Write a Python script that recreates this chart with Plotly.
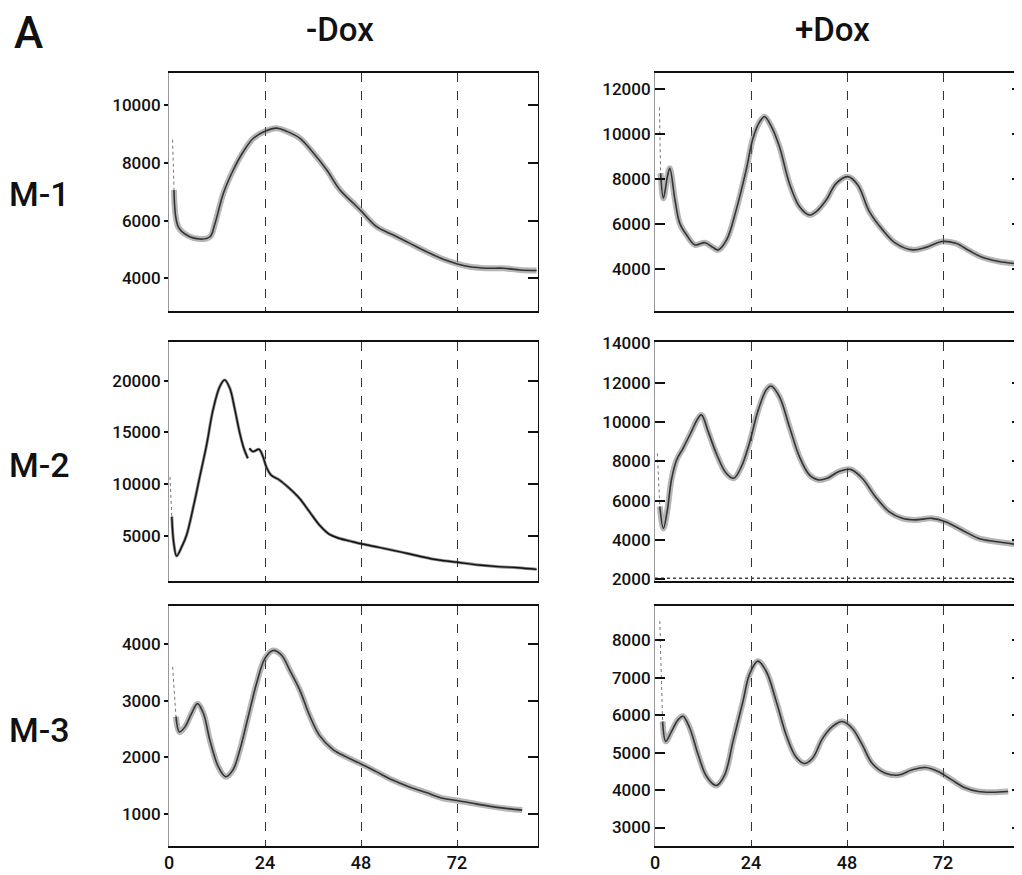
import plotly.graph_objects as go

# ---------------- data (hours, bioluminescence counts) ----------------
t_m1_minus = [0.9, 1.25, 2.3, 4.4, 7.75, 10.25, 11.5, 13.6, 16.1, 18.6, 21.1, 24.0, 26.9, 29.4,
              32.75, 36.1, 39.4, 42.75, 46.1, 48.2, 51.9, 56.1, 60.25, 64.4, 68.6, 72.1, 75.25,
              79.4, 83.6, 87.75, 91.9]
v_m1_minus = [8800, 7060, 5790, 5500, 5360, 5440, 5900, 6950, 7760, 8390, 8850, 9090, 9200, 9090,
              8850, 8340, 7760, 7060, 6600, 6310, 5790, 5500, 5210, 4920, 4660, 4500, 4400,
              4350, 4350, 4290, 4270]

t_m1_plus = [1.1, 1.4, 2.1, 3.1, 3.7, 5.0, 6.2, 7.9, 10.0, 12.5, 14.5, 15.8, 17.9, 20.3, 22.8,
             24.5, 26.2, 27.4, 29.1, 31.1, 33.6, 36.1, 38.6, 40.3, 42.8, 45.3, 48.2, 50.7, 53.6,
             56.9, 60.2, 64.4, 67.7, 71.8, 75.2, 78.5, 81.8, 86.0, 89.3, 91.4]
v_m1_plus = [11200, 8260, 7150, 8110, 8480, 7070, 6030, 5510, 5070, 5170, 4960, 4850, 5290, 6630,
             8410, 9820, 10560, 10780, 10340, 9450, 7810, 6780, 6400, 6550, 7070, 7810, 8110,
             7740, 6550, 5740, 5140, 4850, 4960, 5220, 5140, 4820, 4520, 4330, 4250, 4220]

t_m2_minus = [0.25, 0.7, 1.2, 1.9, 3.2, 4.4, 6.1, 7.7, 9.4, 11.0, 12.7, 13.9, 15.2, 16.4, 17.7,
              18.7, 19.7, None, 20.1, 21.0, 22.5, 23.5, 24.3, 25.5, 27.6, 30.1, 32.6, 35.1, 37.6,
              40.0, 42.5, 45.9, 48.3, 52.5, 57.5, 62.4, 67.4, 72.1, 77.4, 82.3, 87.3, 91.9]
v_m2_minus = [10700, 6870, 4290, 3070, 3970, 5100, 7830, 10730, 13790, 17170, 19430, 20070, 19270,
              17330, 14920, 13470, 12500, None, 13470, 13150, 13370, 12660, 11700, 10890, 10410,
              9600, 8640, 7350, 6060, 5190, 4780, 4450, 4230, 3900, 3490, 3070, 2680, 2460, 2200,
              2040, 1940, 1780]

t_m2_plus = [0.6, 1.2, 2.1, 3.1, 4.1, 5.4, 7.0, 9.1, 10.5, 11.6, 13.3, 15.3, 17.8, 19.7, 21.6,
             23.6, 25.7, 27.8, 29.0, 31.1, 33.6, 36.1, 38.6, 41.0, 43.1, 46.0, 48.9, 51.8, 55.1,
             58.5, 61.8, 65.1, 69.2, 72.6, 76.7, 80.8, 85.0, 88.3, 91.3]
v_m2_plus = [8400, 5700, 4590, 5530, 7050, 8070, 8660, 9510, 10100, 10360, 9510, 8410, 7390, 7140,
             7730, 8920, 10530, 11630, 11830, 11290, 9760, 8240, 7310, 7050, 7140, 7480, 7590,
             7140, 6200, 5440, 5100, 5020, 5100, 4930, 4510, 4090, 3920, 3830, 3750]
t_m2_plus_base = [0, 91.75]
v_m2_plus_base = [2050, 2050]

t_m3_minus = [0.9, 1.75, 2.6, 4.0, 5.65, 7.1, 8.6, 10.2, 12.3, 14.2, 16.0, 17.7, 19.8, 21.9, 24.0,
              26.0, 28.1, 30.2, 32.7, 35.1, 37.6, 41.0, 44.3, 47.9, 51.8, 55.9, 60.1, 64.3, 68.4,
              72.0, 75.9, 80.0, 84.2, 88.3]
v_m3_minus = [3600, 2720, 2450, 2540, 2780, 2950, 2780, 2310, 1840, 1660, 1780, 2130, 2720, 3310,
              3750, 3890, 3810, 3540, 3190, 2750, 2390, 2140, 2010, 1890, 1750, 1600, 1480, 1380,
              1280, 1240, 1190, 1140, 1100, 1070]

t_m3_plus = [1.2, 1.9, 2.7, 4.1, 5.8, 7.0, 8.7, 10.8, 12.9, 15.3, 17.4, 19.5, 22.0, 23.6, 25.7,
             27.8, 30.3, 32.8, 35.2, 37.3, 39.4, 41.9, 44.4, 46.8, 49.3, 51.8, 54.3, 57.6, 60.9,
             64.3, 67.6, 70.9, 74.2, 77.5, 80.8, 84.2, 88.3]
v_m3_plus = [8510, 5830, 5300, 5560, 5880, 5970, 5650, 4940, 4360, 4120, 4400, 5300, 6370, 7080,
             7440, 7170, 6370, 5470, 4890, 4710, 4850, 5380, 5700, 5830, 5650, 5210, 4710, 4450,
             4400, 4540, 4600, 4490, 4270, 4060, 3960, 3940, 3960]

x_ticks = [0, 24, 48, 72]
x_grid = [24, 48, 72]
yt_m1_minus = [4000, 6000, 8000, 10000]
yt_m1_plus = [4000, 6000, 8000, 10000, 12000]
yt_m2_minus = [5000, 10000, 15000, 20000]
yt_m2_plus = [2000, 4000, 6000, 8000, 10000, 12000, 14000]
yt_m3_minus = [1000, 2000, 3000, 4000]
yt_m3_plus = [3000, 4000, 5000, 6000, 7000, 8000]

col_titles = ["-Dox", "+Dox"]
row_titles = ["M-1", "M-2", "M-3"]

# ---------------- layout geometry ----------------
# the page body has an 8px margin, so the figure is sized/offset to compensate
OFF = 8
W, H = 1022 - OFF, 875 - OFF
FONT = "Roboto"


def px(xp):
    return (xp - OFF) / W


def py(yp):
    return 1 - (yp - OFF) / H


col_dom = [[px(169), px(538)], [px(655), 1.0]]
x_ranges = [[0, 92.25], [0, 91.75]]
row_dom = [[py(310.7), py(72.7)],
           [py(580.7), py(342.3)],
           [py(846), py(606)]]

panels = [
    # (row, col, t, v, yrange, ticks, thin)
    (0, 0, t_m1_minus, v_m1_minus, [2880, 11120], yt_m1_minus, False),
    (0, 1, t_m1_plus, v_m1_plus, [2140, 12740], yt_m1_plus, False),
    (1, 0, t_m2_minus, v_m2_minus, [685, 23700], yt_m2_minus, True),
    (1, 1, t_m2_plus, v_m2_plus, [1930, 14050], yt_m2_plus, False),
    (2, 0, t_m3_minus, v_m3_minus, [436, 4675], yt_m3_minus, False),
    (2, 1, t_m3_plus, v_m3_plus, [2507, 8911], yt_m3_plus, False),
]

fig = go.Figure()
layout = dict(width=W, height=H, margin=dict(l=0, r=0, t=0, b=0, autoexpand=False),
              plot_bgcolor="white", paper_bgcolor="white", showlegend=False)

tick_font = dict(family=FONT, size=17, color="#111", weight=500)

for i, (r, c, t, v, yr, yt, thin) in enumerate(panels):
    n = i + 1
    xa, ya, ya2 = f"x{n}", f"y{n}", f"y{n + 6}"
    # faint initial transient (first reading down to the second)
    fig.add_trace(go.Scatter(x=t[:2], y=v[:2], mode="lines", xaxis=xa, yaxis=ya,
                             line=dict(color="#777", width=1, dash="dot"), hoverinfo="skip"))
    tm, vm = t[1:], v[1:]
    if not thin:
        fig.add_trace(go.Scatter(x=tm, y=vm, mode="lines", xaxis=xa, yaxis=ya,
                                 line=dict(color="rgba(110,110,110,0.5)", width=6, shape="spline"),
                                 hoverinfo="skip", connectgaps=False))
        fig.add_trace(go.Scatter(x=tm, y=vm, mode="lines", xaxis=xa, yaxis=ya,
                                 line=dict(color="#333", width=1.6, shape="spline"), connectgaps=False))
    else:
        fig.add_trace(go.Scatter(x=tm, y=vm, mode="lines", xaxis=xa, yaxis=ya,
                                 line=dict(color="rgba(60,60,60,0.6)", width=3, shape="spline"),
                                 hoverinfo="skip", connectgaps=False))
        fig.add_trace(go.Scatter(x=tm, y=vm, mode="lines", xaxis=xa, yaxis=ya,
                                 line=dict(color="#111", width=1.4, shape="spline"), connectgaps=False))
    if (r, c) == (1, 1):
        fig.add_trace(go.Scatter(x=t_m2_plus_base, y=v_m2_plus_base, mode="lines", xaxis=xa, yaxis=ya,
                                 line=dict(color="#444", width=1.5, dash="dot")))

    axk = "xaxis" if n == 1 else f"xaxis{n}"
    yak = "yaxis" if n == 1 else f"yaxis{n}"
    layout[axk] = dict(domain=col_dom[c], range=x_ranges[c], anchor=ya, automargin=False,
                       showline=True, linecolor="#111", linewidth=1.5, mirror=True,
                       tickmode="array", tickvals=x_ticks, ticks="",
                       showticklabels=(r == 2), tickfont=dict(family=FONT, size=18, color="#111", weight=500),
                       showgrid=False, zeroline=False,
                       minor=dict(tickvals=x_grid, showgrid=True, gridcolor="#333",
                                  gridwidth=1, griddash="dash", ticks=""))
    layout[yak] = dict(domain=row_dom[r], range=yr, anchor=xa, automargin=False,
                       showline=True, linecolor="#999", linewidth=1,
                       tickmode="array", tickvals=yt, tickformat="d",
                       ticks="outside" if c == 0 else "inside",
                       ticklen=4 if c == 0 else 10, tickcolor="#111", tickwidth=1.5,
                       tickfont=tick_font, showgrid=False, zeroline=False)
    layout[f"yaxis{n + 6}"] = dict(overlaying=ya, side="right", range=yr, anchor=xa, automargin=False,
                                   showline=True, linecolor="#111", linewidth=1,
                                   tickmode="array", tickvals=yt, ticks="inside",
                                   ticklen=10, tickcolor="#111", tickwidth=1.5,
                                   showticklabels=False, showgrid=False, zeroline=False)
    # dummy trace so secondary axis is drawn
    fig.add_trace(go.Scatter(x=[None], y=[None], xaxis=xa, yaxis=ya2, hoverinfo="skip"))


def label(text, xp, yp, size):
    return dict(text=text, x=px(xp), y=py(yp), xref="paper", yref="paper", showarrow=False,
                xanchor="center", yanchor="middle",
                font=dict(family=FONT, size=size, color="#111", weight=500))


annotations = [
    label("A", 28, 33, 44),
    label(col_titles[0], 339.5, 29, 33),
    label(col_titles[1], 832, 29, 33),
]
row_y = [194, 465, 730]
for k, lab in enumerate(row_titles):
    annotations.append(label(lab, 39, row_y[k], 34))
layout["annotations"] = annotations

fig.update_layout(**layout)
fig.write_html("out.html")
